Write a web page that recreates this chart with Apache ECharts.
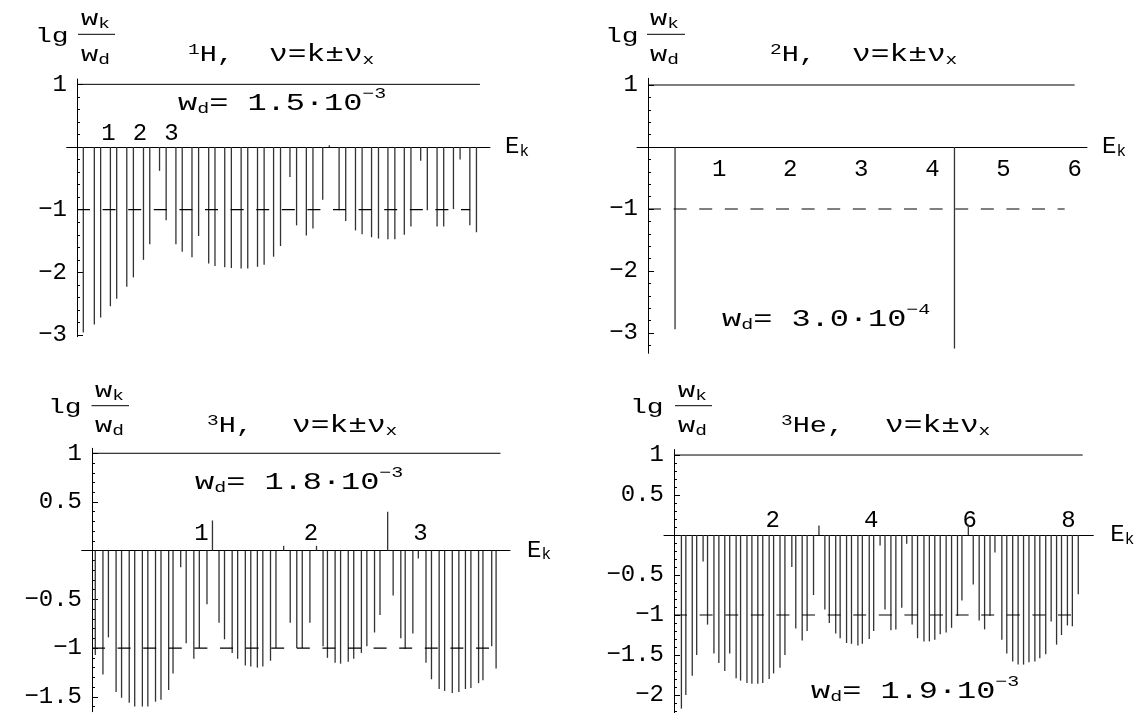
<!DOCTYPE html>
<html>
<head>
<meta charset="utf-8">
<title>lg(w_k/w_d)</title>
<script src="https://cdn.jsdelivr.net/npm/echarts@6.0.0/dist/echarts.min.js"></script>
<style>
  html, body { margin: 0; padding: 0; background: #fff; }
  #chart { width: 1145px; height: 713px; }
</style>
</head>
<body>
<div id="chart"></div>
<script>
// ---- data: stem positions E_k and heights lg(w_k/w_d) ----
// 1H
const h1E = [0.20, 0.55, 0.75, 1.06, 1.26, 1.58, 1.79, 2.11, 2.31, 2.62, 2.83, 3.14, 3.34, 3.65, 3.86, 4.18, 4.38,
  4.69, 4.90, 5.21, 5.42, 5.73, 5.94, 6.24, 6.46, 6.76, 6.97, 7.28, 7.49, 7.80, 8.01, 8.32, 8.53, 8.84, 9.05,
  9.35, 9.57, 9.87, 10.09, 10.39, 10.60, 10.91, 11.12, 11.43, 11.64, 11.95, 12.16, 12.47, 12.68];
const h1W = [-2.96, -2.83, -2.72, -2.54, -2.42, -2.23, -2.08, -1.80, -1.55, -0.38, -1.17, -1.55, -1.67, -1.76, -1.42,
  -1.86, -1.90, -1.92, -1.93, -1.94, -1.94, -1.91, -1.88, -1.75, -1.58, -0.48, -1.25, -1.41, -1.30, -0.84, 0.03,
  -1.01, -1.18, -1.33, -1.39, -1.44, -1.46, -1.47, -1.47, -1.40, -1.27, -0.22, -1.01, -1.27, -1.27, -0.99, -0.20,
  -1.25, -1.36];
// 2H
const h2E = [0.38, 4.31];
const h2W = [-2.94, -3.25];
// 3H
const h3E = [0.03, 0.10, 0.15, 0.22, 0.27, 0.34, 0.39, 0.46, 0.51, 0.58, 0.63, 0.70, 0.74, 0.81, 0.86, 0.93, 0.98,
  1.05, 1.10, 1.16, 1.21, 1.28, 1.33, 1.40, 1.45, 1.51, 1.56, 1.63, 1.68, 1.75, 1.81, 1.87, 1.92, 1.99, 2.05,
  2.11, 2.15, 2.22, 2.27, 2.34, 2.39, 2.46, 2.51, 2.58, 2.63, 2.70, 2.75, 2.82, 2.86, 2.93, 2.98, 3.05, 3.10,
  3.17, 3.22, 3.29, 3.35, 3.41, 3.46, 3.53, 3.57, 3.65, 3.69];
const h3W = [-1.07, -1.27, -0.89, -1.45, -1.51, -1.56, -1.60, -1.60, -1.60, -1.55, -1.53, -1.43, -1.26, -0.17, -0.95,
  -1.11, -1.00, -0.55, 0.31, -0.74, -0.91, -1.05, -1.11, -1.18, -1.19, -1.20, -1.19, -1.13, -1.00, 0.05, -0.74,
  -1.00, -1.00, -0.74, 0.05, -0.98, -1.10, -1.15, -1.16, -1.14, -1.11, -1.05, -0.98, -0.84, -0.66, 0.40, -0.46,
  -0.90, -1.01, -0.85, -0.08, -1.15, -1.32, -1.42, -1.44, -1.46, -1.45, -1.42, -1.41, -1.36, -1.33, -0.98, -1.21];
// 3He
const he3E = [0.15, 0.24, 0.37, 0.46, 0.59, 0.68, 0.81, 0.91, 1.03, 1.13, 1.26, 1.35, 1.48, 1.58, 1.70, 1.80, 1.93,
  2.02, 2.15, 2.25, 2.39, 2.47, 2.60, 2.70, 2.83, 2.94, 3.06, 3.15, 3.28, 3.37, 3.50, 3.60, 3.73, 3.82, 3.96,
  4.05, 4.18, 4.28, 4.40, 4.50, 4.62, 4.72, 4.83, 4.94, 5.07, 5.18, 5.29, 5.40, 5.52, 5.63, 5.75, 5.84, 5.97,
  6.07, 6.19, 6.30, 6.41, 6.51, 6.65, 6.75, 6.87, 6.98, 7.09, 7.20, 7.32, 7.42, 7.54, 7.65, 7.76, 7.86, 7.98,
  8.08, 8.20];
const he3W = [-2.17, -2.00, -1.76, -1.50, -0.33, -1.12, -1.48, -1.60, -1.70, -1.48, -1.79, -1.82, -1.85, -1.86, -1.86,
  -1.85, -1.80, -1.73, -1.66, -1.50, -0.40, -1.17, -1.32, -1.20, -0.75, 0.12, -0.93, -1.10, -1.23, -1.29, -1.35,
  -1.36, -1.38, -1.36, -1.30, -1.20, -0.13, -0.93, -1.19, -1.18, -0.91, -0.11, -1.12, -1.29, -1.33, -1.33, -1.31,
  -1.24, -1.22, -1.16, -1.01, -0.82, 0.13, -0.62, -1.07, -1.18, -1.01, -0.22, -1.31, -1.48, -1.58, -1.62, -1.62,
  -1.59, -1.58, -1.54, -1.49, -1.08, -1.37, -1.25, -1.13, -1.14, -0.74];

// tick labels
const h1XTicks = [1, 2, 3];
const h2XTicks = [1, 2, 3, 4, 5, 6];
const h3XTicks = [1, 2, 3];
const he3XTicks = [2, 4, 6, 8];
const h1YTicks = [1, -1, -2, -3];
const h2YTicks = [1, -1, -2, -3];
const h3YTicks = [1, 0.5, -0.5, -1, -1.5];
const he3YTicks = [1, 0.5, -0.5, -1, -1.5, -2];

// where the lines lg = 1 (solid) and lg = -1 (dashed) stop
const h1Ends = [12.79, 12.48];
const h2Ends = [6.0, 5.86];
const h3Ends = [3.73, 3.66];
const he3Ends = [8.29, 8.10];

// texts
const nuclides = ['{pre|1}{f|H,}', '{pre|2}{f|H,}', '{pre|3}{f|H,}', '{pre|3}{f|He,}'];
const wdTexts = ['{m|w}{sub|d}{m|= 1.5·10}{sup|−3}', '{m|w}{sub|d}{m|= 3.0·10}{sup|−4}',
  '{m|w}{sub|d}{m|= 1.8·10}{sup|−3}', '{m|w}{sub|d}{m|= 1.9·10}{sup|−3}'];

const MONO = "'Liberation Mono', 'DejaVu Sans Mono', monospace";

const RICH = {
  m: { fontFamily: MONO, fontSize: 24, lineHeight: 35, verticalAlign: 'middle' },
  f: { fontFamily: MONO, fontSize: 22, lineHeight: 35, verticalAlign: 'middle' },
  lg: { fontFamily: MONO, fontSize: 20, lineHeight: 35, verticalAlign: 'middle' },
  sub: { fontFamily: MONO, fontSize: 15, verticalAlign: 'bottom', padding: [0, 0, 5, 0] },
  sup: { fontFamily: MONO, fontSize: 15, verticalAlign: 'top' },
  pre: { fontFamily: MONO, fontSize: 15, verticalAlign: 'top', padding: [5, 0, 0, 0] }
};

// layout of each panel (pixel boxes picked to match the picture)
const panels = [
  { E: h1E, W: h1W, xTicks: h1XTicks, yTicks: h1YTicks, ends: h1Ends, minor: [-3, 1, 0.2],
    grid: { left: 66.7, top: 79, width: 423.3, height: 257.7 }, x: [-0.327, 13.11], y: [-3.026, 1.085],
    inside: true, margin: 1, gap: 15,
    lg: [35, 37], frac: [81, 78, 115, 34.3, 19, 55], nuc: [188, 55], nu: [269, 55], wd: [178, 104] },
  { E: h2E, W: h2W, xTicks: h2XTicks, yTicks: h2YTicks, ends: h2Ends, minor: [-3.2, 1, 0.2],
    grid: { left: 637, top: 78.3, width: 450, height: 275 }, x: [-0.155, 6.174], y: [-3.327, 1.108],
    inside: false, margin: 11, gap: 15,
    lg: [605, 37], frac: [650, 647, 685, 34.3, 19, 55], nuc: [770, 55], nu: [852, 55], wd: [722, 320] },
  { E: h3E, W: h3W, xTicks: h3XTicks, yTicks: h3YTicks, ends: h3Ends, minor: [-1.6, 1, 0.1],
    grid: { left: 81.7, top: 448.3, width: 428.3, height: 263.4 }, x: [-0.094, 3.817], y: [-1.653, 1.051],
    inside: true, margin: 5, gap: 17,
    lg: [48, 408], frac: [95, 91.5, 129, 405.7, 391, 426], nuc: [207, 426], nu: [292, 426], wd: [195, 483] },
  { E: he3E, W: he3W, xTicks: he3XTicks, yTicks: he3YTicks, ends: he3Ends, minor: [-2.2, 1, 0.1],
    grid: { left: 664, top: 449.5, width: 429.3, height: 263.5 }, x: [-0.203, 8.505], y: [-2.225, 1.069],
    inside: true, margin: 2, gap: 17,
    lg: [630, 408], frac: [678, 675, 712, 405.7, 391, 426], nuc: [781, 426], nu: [885, 426], wd: [811, 692] }
];

function steps(a, b, s) {
  const out = [];
  const n = Math.round((b - a) / s);
  for (let i = 0; i <= n; i++) out.push(Math.round((a + i * s) * 100) / 100);
  return out;
}

function fmt(v) {
  return (v < 0 ? '−' : '') + Math.abs(v);
}

const grids = [], xAxes = [], yAxes = [], series = [], graphics = [];

function txt(x, y, s, sx) {
  graphics.push({
    type: 'text', x: x, y: y, scaleX: sx, silent: true,
    style: { text: s, rich: RICH, fill: '#000', align: 'left', verticalAlign: 'middle' }
  });
}

panels.forEach(function (p, i) {
  const g = p.grid;
  grids.push(Object.assign({ containLabel: false, outerBoundsMode: 'none' }, g));
  // axes cross at (0, 0): shift them in from the grid edges
  const zeroX = g.width * (-p.x[0]) / (p.x[1] - p.x[0]);
  const zeroY = g.height * (-p.y[0]) / (p.y[1] - p.y[0]);

  xAxes.push({
    type: 'value', gridIndex: i, min: p.x[0], max: p.x[1], position: 'bottom', offset: -zeroY,
    axisLine: { onZero: false, lineStyle: { color: '#000', width: 1 } },
    axisTick: { show: false },
    splitLine: { show: false },
    axisLabel: { customValues: p.xTicks, inside: p.inside, margin: p.margin,
      fontFamily: MONO, fontSize: 24, color: '#000' },
    name: '{e|E}{k|k}', nameLocation: 'end', nameGap: p.gap,
    nameTextStyle: { color: '#000', rich: {
      e: { fontFamily: MONO, fontSize: 24, lineHeight: 35, verticalAlign: 'middle' },
      k: { fontFamily: MONO, fontSize: 16, verticalAlign: 'bottom', padding: [0, 0, 5, 0] } } }
  });

  // axis line + minor ticks
  yAxes.push({
    type: 'value', gridIndex: i, min: p.y[0], max: p.y[1], position: 'left', offset: -zeroX,
    axisLine: { show: true, onZero: false, lineStyle: { color: '#000', width: 1 } },
    axisTick: { show: true, inside: true, length: 3, customValues: steps(p.minor[0], p.minor[1], p.minor[2]),
      lineStyle: { color: '#000', width: 1 } },
    axisLabel: { show: false },
    splitLine: { show: false }
  });
  // major ticks + labels
  yAxes.push({
    type: 'value', gridIndex: i, min: p.y[0], max: p.y[1], position: 'left', offset: -zeroX,
    axisLine: { show: false, onZero: false },
    axisTick: { show: true, inside: true, length: 6, customValues: p.yTicks,
      lineStyle: { color: '#000', width: 1 } },
    axisLabel: { customValues: p.yTicks, margin: 10, fontFamily: MONO, fontSize: 24, color: '#000',
      formatter: fmt },
    splitLine: { show: false }
  });

  series.push({
    type: 'bar', xAxisIndex: i, yAxisIndex: 2 * i, silent: true,
    barWidth: 1.3,
    itemStyle: { color: '#333' },
    data: p.E.map(function (e, k) { return [e, p.W[k]]; })
  });
  series.push({
    type: 'line', xAxisIndex: i, yAxisIndex: 2 * i, silent: true, showSymbol: false, z: 3,
    lineStyle: { color: '#000', width: 1 },
    data: [[0, 1], [p.ends[0], 1]]
  });
  series.push({
    type: 'line', xAxisIndex: i, yAxisIndex: 2 * i, silent: true, showSymbol: false, z: 3,
    lineStyle: { color: '#000', width: 1.2, type: [13, 12.6] },
    data: [[0, -1], [p.ends[1], -1]]
  });

  // lg (w_k / w_d), nuclide, nu = k ± nu_x, w_d
  txt(p.lg[0], p.lg[1], '{lg|lg}', 1.4);
  txt(p.frac[0], p.frac[4], '{f|w}{sub|k}', 1.3);
  txt(p.frac[0], p.frac[5], '{f|w}{sub|d}', 1.3);
  graphics.push({ type: 'line', silent: true,
    shape: { x1: p.frac[1], y1: p.frac[3], x2: p.frac[2], y2: p.frac[3] },
    style: { stroke: '#000', lineWidth: 1 } });
  txt(p.nuc[0], p.nuc[1], nuclides[i], 1.3);
  txt(p.nu[0], p.nu[1], '{m|ν=k±ν}{sub|x}', 1.3);
  txt(p.wd[0], p.wd[1], wdTexts[i], 1.33);
});

const chart = echarts.init(document.getElementById('chart'));
chart.setOption({
  animation: false,
  backgroundColor: '#fff',
  textStyle: { fontFamily: MONO },
  grid: grids,
  xAxis: xAxes,
  yAxis: yAxes,
  series: series,
  graphic: graphics
});
</script>
</body>
</html>
